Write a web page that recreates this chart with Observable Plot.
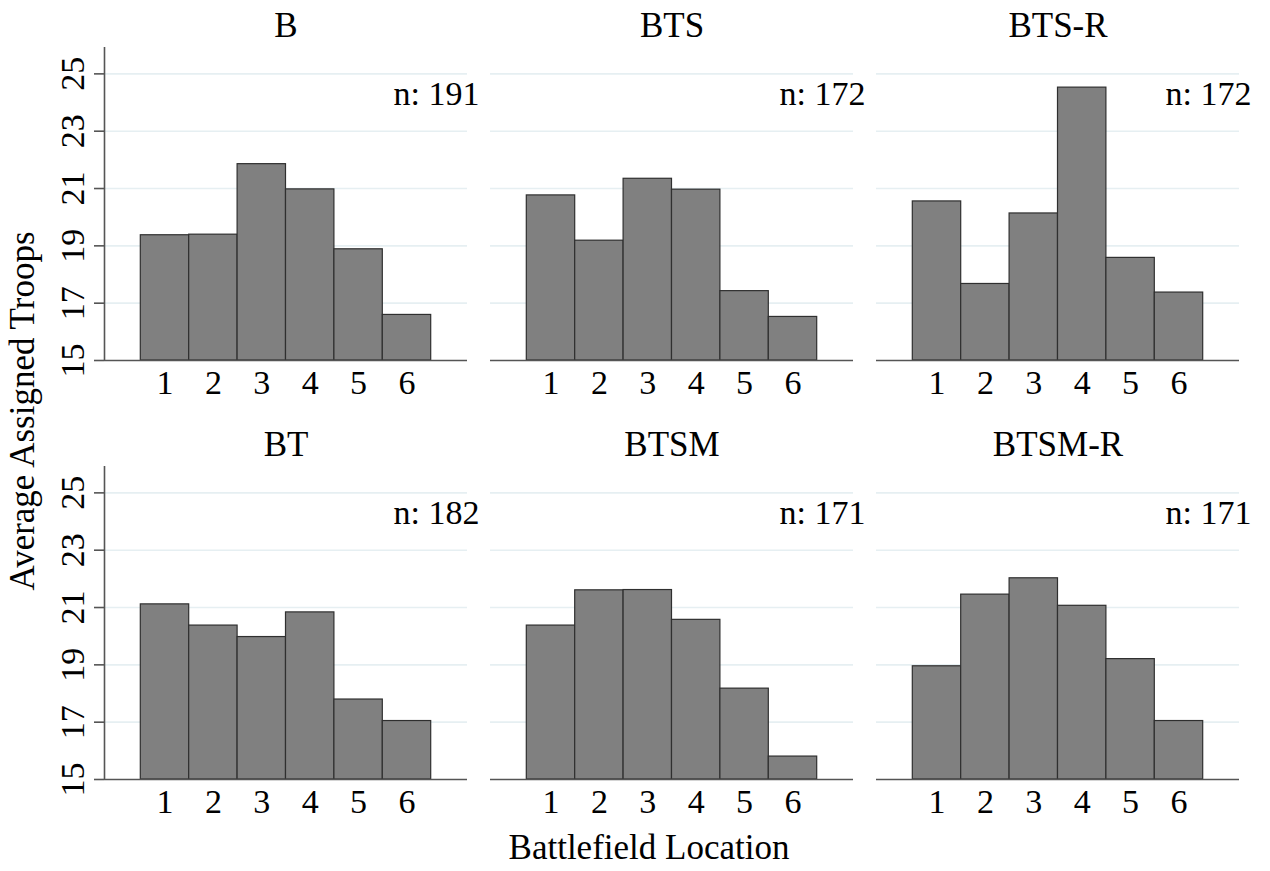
<!DOCTYPE html>
<html>
<head>
<meta charset="utf-8">
<script src="https://cdn.jsdelivr.net/npm/d3@7"></script>
<script src="https://cdn.jsdelivr.net/npm/@observablehq/plot@0.6"></script>
<style>
  body { margin: 0; background: #ffffff; }
  #chart { width: 1270px; height: 871px; }
</style>
</head>
<body>
<div id="chart"></div>
<script>
// Treatments, in reading order (3 columns x 2 rows)
const treatments = ["B", "BTS", "BTS-R", "BT", "BTSM", "BTSM-R"];
const sampleSizes = [191, 172, 172, 182, 171, 171];
const locations = [1, 2, 3, 4, 5, 6];

// Average troops assigned to each battlefield location
const troopsB     = [19.37, 19.39, 21.85, 20.97, 18.88, 16.59];
const troopsBTS   = [20.76, 19.18, 21.34, 20.96, 17.42, 16.52];
const troopsBTSR  = [20.55, 17.67, 20.13, 24.52, 18.58, 17.37];
const troopsBT    = [21.11, 20.37, 19.97, 20.83, 17.79, 17.04];
const troopsBTSM  = [20.37, 21.60, 21.61, 20.57, 18.17, 15.80];
const troopsBTSMR = [18.95, 21.45, 22.02, 21.06, 19.20, 17.04];

const yTicks = [15, 17, 19, 21, 23, 25];
const yMax = 25.92;
const xTitle = "Battlefield Location";
const yTitle = "Average Assigned Troops";

const series = [troopsB, troopsBTS, troopsBTSR, troopsBT, troopsBTSM, troopsBTSMR];
const panels = treatments.map((name, i) => ({
  name, n: sampleSizes[i], col: i % 3, row: Math.floor(i / 3)
}));
const bars = panels.flatMap((p, i) =>
  locations.map((location, j) => ({col: p.col, row: p.row, location, troops: series[i][j]}))
);
const leftPanels = panels.filter((p) => p.col === 0);
const yBase = yTicks[0];
const xDomain = [locations[0] - 1.25, locations[locations.length - 1] + 1.25];

const axisColor = "#555555";
const font = "Liberation Serif";
const fs = 34;      // tick labels and sample sizes
const fsTitle = 35; // panel and axis titles

const chart = Plot.plot({
  width: 1270,
  height: 871,
  marginLeft: 102.7,
  marginRight: 30,
  marginTop: 46.7,
  marginBottom: 92.7,
  style: {fontFamily: font, fontSize: `${fs}px`, background: "#ffffff", color: "#000000"},
  fx: {axis: null, paddingInner: 0.06, paddingOuter: 0},
  fy: {axis: null, paddingInner: 0.254, paddingOuter: 0},
  x: {domain: xDomain, axis: null},
  y: {domain: [yBase, yMax]},
  marks: [
    // light horizontal grid in every panel
    Plot.ruleY(yTicks.slice(1), {stroke: "#e6eff2", strokeWidth: 1.6}),
    // bars
    Plot.rectY(bars, {
      fx: "col", fy: "row",
      x1: (d) => d.location - 0.5,
      x2: (d) => d.location + 0.5,
      y1: yBase, y2: "troops",
      fill: "#808080", stroke: "#2f2f2f", strokeWidth: 1.2
    }),
    // x axis baseline
    Plot.ruleY([yBase], {stroke: axisColor, strokeWidth: 1.6}),
    // y axis line, left column only
    Plot.ruleX(leftPanels, {fx: "col", fy: "row", x: () => xDomain[0], stroke: axisColor, strokeWidth: 1.6}),
    // y ticks with rotated labels
    Plot.axisY({
      ticks: yTicks, tickSize: 10, tickPadding: 11, tickRotate: -90,
      label: null, stroke: axisColor, strokeWidth: 1.6, fill: "#000000", fontSize: fs
    }),
    // x tick labels
    Plot.text(locations, {x: (d) => d, frameAnchor: "bottom", lineAnchor: "top", dy: 9, fontSize: fs}),
    // panel titles
    Plot.text(panels, {fx: "col", fy: "row", text: "name", frameAnchor: "top", lineAnchor: "middle", dy: -22, fontSize: fsTitle}),
    // sample sizes
    Plot.text(panels, {
      fx: "col", fy: "row", text: (d) => `n: ${d.n}`,
      frameAnchor: "top-left", textAnchor: "start", lineAnchor: "middle", dx: 289, dy: 47, fontSize: fs
    }),
    // shared axis titles
    Plot.text([yTitle], {facet: "super", frameAnchor: "left", rotate: -90, textAnchor: "middle", lineAnchor: "bottom", dx: -70.4, dy: -2.5, fontSize: fsTitle}),
    Plot.text([xTitle], {facet: "super", frameAnchor: "bottom", textAnchor: "middle", lineAnchor: "bottom", dx: -23, dy: 79.4, fontSize: fsTitle})
  ]
});

document.getElementById("chart").appendChild(chart);
</script>
</body>
</html>
